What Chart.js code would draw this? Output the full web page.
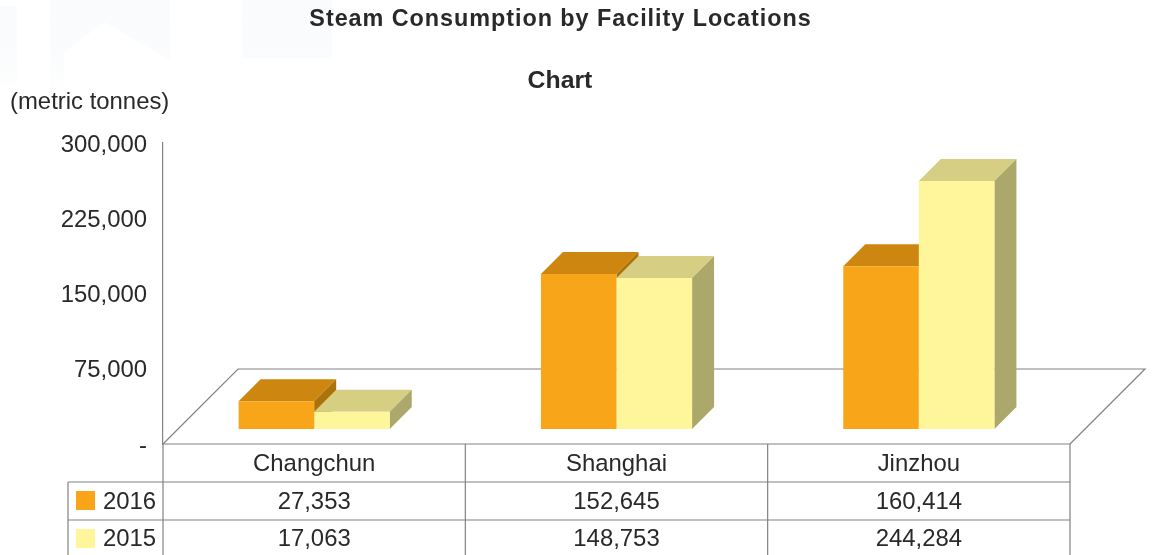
<!DOCTYPE html>
<html><head><meta charset="utf-8">
<style>html,body{margin:0;padding:0;background:#fff}canvas{display:block}</style>
<script src="https://cdn.jsdelivr.net/npm/chart.js@4/dist/chart.umd.min.js"></script>
</head><body><canvas id="c" width="1152" height="555"></canvas>
<script>
const categories = ['Changchun','Shanghai','Jinzhou'];
const seriesNames = ['2016','2015'];
const values2016 = [27353,152645,160414];
const values2015 = [17063,148753,244284];
const tickValues = [0,75000,150000,225000,300000];
const titleText = 'Steam Consumption by Facility Locations';
const subtitleText = 'Chart';
const unitText = '(metric tonnes)';

const FONT = '"Liberation Sans", Arial, sans-serif';
const TXT = '#2a2829', GRID = '#808285';
const faces = [
  {front:'#f9a51a', top:'#cd8710', side:'#ab7209'},
  {front:'#fff69b', top:'#d6ce82', side:'#aca76a'}
];
const DEPTH = 22, FLOOR = 75;
const fmt = v => v === 0 ? '-' : v.toLocaleString('en-US');

function poly(ctx, pts, fill, stroke){
  ctx.beginPath();
  pts.forEach((p,i)=> i ? ctx.lineTo(p[0],p[1]) : ctx.moveTo(p[0],p[1]));
  ctx.closePath();
  if(fill){ctx.fillStyle=fill;ctx.fill();}
  if(stroke){ctx.strokeStyle=stroke;ctx.lineWidth=1;ctx.stroke();}
}
function text(ctx,s,x,y,font,align,spacing){
  ctx.font=font;ctx.fillStyle=TXT;ctx.textAlign=align||'left';ctx.textBaseline='middle';
  ctx.letterSpacing=spacing||'0px';ctx.fillText(s,x,y);ctx.letterSpacing='0px';
}

const scene = {
  id:'scene',
  beforeDatasetsDraw(chart){
    const {ctx,chartArea:a}=chart;
    ctx.save();
    // faint background watermark
    const g=ctx.createLinearGradient(0,0,0,100);
    g.addColorStop(0,'#f9fbfd');g.addColorStop(.6,'#fbfcfd');g.addColorStop(1,'#ffffff');
    ctx.fillStyle=g;
    ctx.fillRect(0,6,17,78);ctx.fillRect(50,0,120,92);ctx.fillRect(242,0,90,58);
    poly(ctx,[[64,52],[104,22],[170,60],[170,92],[64,92]],'#ffffff');
    // floor
    ctx.strokeStyle=GRID;ctx.lineWidth=1.2;
    ctx.beginPath();
    ctx.moveTo(a.left,a.bottom);ctx.lineTo(a.left+FLOOR,a.bottom-FLOOR);
    ctx.lineTo(a.right+FLOOR,a.bottom-FLOOR);ctx.lineTo(a.right,a.bottom);
    ctx.stroke();
    // bars: left series first so the right series overlaps it
    [0,1].forEach(i=>{
      const meta=chart.getDatasetMeta(i), f=faces[i];
      meta.data.forEach(b=>{
        const l=b.x-b.width/2,r=b.x+b.width/2,t=b.y,bt=b.base;
        poly(ctx,[[l,t],[r,t],[r+DEPTH,t-DEPTH],[l+DEPTH,t-DEPTH]],f.top);
        poly(ctx,[[r,t],[r+DEPTH,t-DEPTH],[r+DEPTH,bt-DEPTH],[r,bt]],f.side);
      });
      meta.controller.draw();
    });
    ctx.restore();
  },
  beforeDatasetDraw(){ return false; },
  afterDraw(chart){
    const {ctx,chartArea:a}=chart, H=chart.height;
    const colW=(a.right-a.left)/categories.length;
    const rowTop=[a.bottom+38,a.bottom+76], tableLeft=68;
    ctx.save();
    ctx.strokeStyle=GRID;ctx.lineWidth=1.2;
    ctx.beginPath();
    ctx.moveTo(a.left,a.bottom);ctx.lineTo(a.right,a.bottom);
    rowTop.forEach(y=>{ctx.moveTo(tableLeft,y);ctx.lineTo(a.right,y);});
    ctx.moveTo(tableLeft,rowTop[0]);ctx.lineTo(tableLeft,H);
    for(let i=0;i<=categories.length;i++){
      const x=a.left+colW*i;ctx.moveTo(x,a.bottom);ctx.lineTo(x,H);
    }
    ctx.stroke();
    const font='23.9px '+FONT;
    [values2016,values2015].forEach((vals,r)=>{
      const cy=rowTop[r]+20, ty=cy-r;
      ctx.fillStyle=faces[r].front;ctx.fillRect(76,cy-11,19,19);
      text(ctx,seriesNames[r],103,ty,font);
      vals.forEach((v,i)=>text(ctx,fmt(v),a.left+colW*(i+.5),ty,font,'center'));
    });
    text(ctx,titleText,560.5,20,'bold 23.4px '+FONT,'center','0.95px');
    text(ctx,subtitleText,560,81,'bold 24.8px '+FONT,'center');
    text(ctx,unitText,10,102,font,'left');
    ctx.restore();
  }
};

new Chart(document.getElementById('c'),{
  type:'bar',
  plugins:[scene],
  data:{labels:categories,datasets:[
    {label:seriesNames[0],data:values2016,backgroundColor:faces[0].front,yAxisID:'yBars'},
    {label:seriesNames[1],data:values2015,backgroundColor:faces[1].front,yAxisID:'yBars'}
  ]},
  options:{
    responsive:false,animation:false,
    layout:{padding:{top:143,right:82,left:0,bottom:0}},
    plugins:{legend:{display:false},title:{display:false},tooltip:{enabled:false}},
    datasets:{bar:{categoryPercentage:.5,barPercentage:1,borderWidth:0}},
    scales:{
      x:{
        afterFit(s){s.height=111;},
        grid:{display:false},border:{display:false},
        ticks:{color:TXT,font:{family:FONT,size:23.9},padding:-2,maxRotation:0}
      },
      y:{
        position:'left',min:0,max:300000,
        afterFit(s){s.width=163;},
        afterBuildTicks(s){s.ticks=tickValues.map(v=>({value:v}));},
        grid:{display:false},border:{display:true,color:GRID,width:1.2},
        ticks:{callback:fmt,color:TXT,font:{family:FONT,size:23.9},padding:8,labelOffset:2}
      },
      yBars:{display:false,min:-14778,max:281773}
    }
  }
});
</script></body></html>
